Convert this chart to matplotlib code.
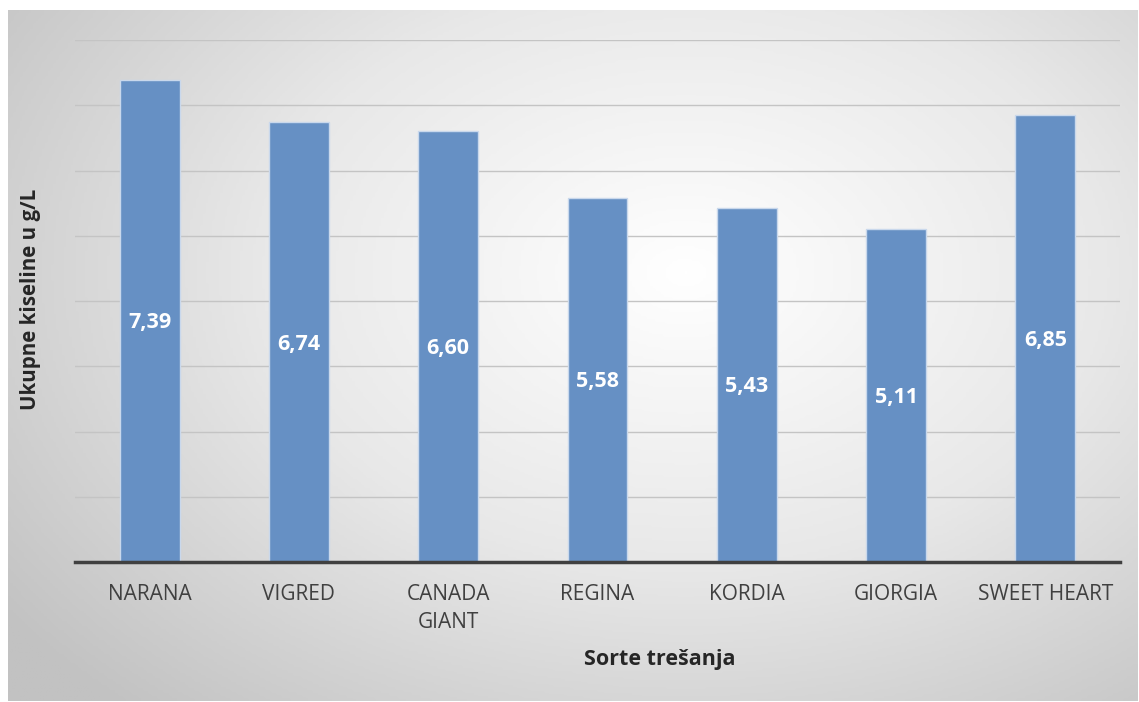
import numpy as np
import matplotlib
matplotlib.use("Agg")
import matplotlib.pyplot as plt
from matplotlib.colors import LinearSegmentedColormap

# data
sorte = ["NARANA", "VIGRED", "CANADA\nGIANT", "REGINA", "KORDIA", "GIORGIA", "SWEET HEART"]
kiseline = [7.39, 6.74, 6.60, 5.58, 5.43, 5.11, 6.85]
oznake = ["7,39", "6,74", "6,60", "5,58", "5,43", "5,11", "6,85"]

plt.rcParams['font.family'] = ['Open Sans', 'DejaVu Sans']

W, H = 1139, 702
fig = plt.figure(figsize=(W / 100, H / 100), dpi=100)
fig.patch.set_facecolor("white")

# radial gradient background of the chart frame
bg = fig.add_axes([8 / W, 1 - 701 / H, (1138 - 8) / W, (701 - 10) / H], zorder=0)
gx, gy = np.meshgrid(np.linspace(0, 1, 400), np.linspace(0, 1, 250))
r = np.sqrt(((gx - 0.6) / 0.75) ** 2 + ((gy - 0.62) / 0.85) ** 2)
cmap = LinearSegmentedColormap.from_list("g", ["#ffffff", "#e8e8e8", "#c2c2c2"])
bg.imshow(np.clip(r, 0, 1), cmap=cmap, vmin=0, vmax=1, aspect="auto",
          extent=[0, 1, 0, 1], origin="lower")
bg.set_axis_off()

# main axes: left 75px, right 1120px, baseline y=562, y=8 at y=40
y0, y8 = 562, 40
ax = fig.add_axes([75 / W, 1 - y0 / H, (1120 - 75) / W, (y0 - y8) / H], zorder=1)
ax.patch.set_alpha(0)
x = np.arange(len(sorte))
bars = ax.bar(x, kiseline, width=0.4, color="#6690c4", edgecolor="#c9d8ec",
              linewidth=1.0, zorder=3)
for xi, v, t in zip(x, kiseline, oznake):
    ax.text(xi, v / 2 - 0.03, t, ha="center", va="center", color="white",
            fontsize=15.5, fontweight="bold", zorder=4)

ax.set_xlim(-0.5, len(sorte) - 0.5)
ax.set_ylim(0, 8)
ax.set_yticks(np.arange(1, 9))
ax.yaxis.grid(True, color="#c4c4c4", linewidth=1.0, zorder=0)
ax.tick_params(axis="y", length=0, labelleft=False)
ax.tick_params(axis="x", length=0, pad=16, labelsize=15, labelcolor="#404040")
ax.set_xticks(x)
ax.set_xticklabels(sorte, linespacing=1.45, va="top")
for s in ["top", "right", "left"]:
    ax.spines[s].set_visible(False)
ax.spines["bottom"].set_color("#404040")
ax.spines["bottom"].set_linewidth(2.5)
ax.spines["bottom"].set_zorder(5)

fig.text(660 / W, 1 - 660 / H, "Sorte trešanja", ha="center", va="center",
         fontsize=15.5, fontweight="bold", color="#262626")
fig.text(31 / W, 1 - 299 / H, "Ukupne kiseline u g/L", ha="center", va="center",
         rotation=90, fontsize=14.8, fontweight="bold", color="#262626")

fig.savefig("out.png", dpi=100)
